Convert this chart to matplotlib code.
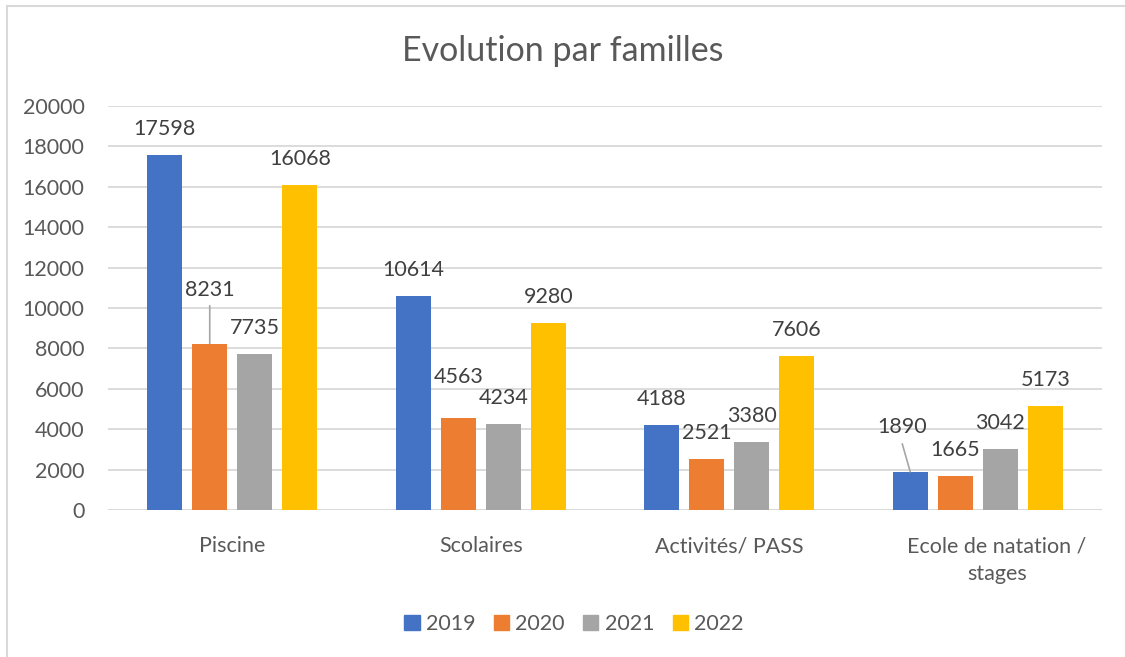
import numpy as np
import matplotlib
matplotlib.use("Agg")
import matplotlib.pyplot as plt
import matplotlib.transforms as mtransforms
from matplotlib.lines import Line2D

plt.rcParams['font.family'] = ['Lato', 'DejaVu Sans']

# data
categories = ["Piscine", "Scolaires", "Activités/ PASS", "Ecole de natation /\nstages"]
years = ["2019", "2020", "2021", "2022"]
v2019 = [17598, 10614, 4188, 1890]
v2020 = [8231, 4563, 2521, 1665]
v2021 = [7735, 4234, 3380, 3042]
v2022 = [16068, 9280, 7606, 5173]
series = [v2019, v2020, v2021, v2022]
colors = ["#4472C4", "#ED7D31", "#A5A5A5", "#FFC000"]

TXT = "#595959"
LBL = "#404040"
GRID = "#D9D9D9"
FS = 15.5

fig = plt.figure(figsize=(11.25, 6.57), dpi=100)
ax = fig.add_axes([108 / 1125, 1 - 510 / 657, (1102 - 108) / 1125, (510 - 106) / 657])

x = np.arange(len(categories))
pitch = 45 / 248.5
width = 35 / 248.5

# labels moved off their default spot (pixels), some with leader lines
shift = {(1, 0): (0, 28), (1, 1): (0, 15), (0, 3): (-8, 19)}

for i, (vals, col) in enumerate(zip(series, colors)):
    xs = x + (i - 1.5) * pitch
    ax.bar(xs, vals, width=width, color=col, zorder=3)
    for j, (xx, v) in enumerate(zip(xs, vals)):
        dx, dy = shift.get((i, j), (0, 0))
        ax.annotate(str(v), (xx, v), xytext=(dx, 26 + dy), textcoords='offset pixels',
                    ha='center', va='center', fontsize=FS, color=LBL, zorder=4)

# leader lines
ax.annotate("", (x[0] - 0.5 * pitch, v2020[0]), xytext=(0, 38), textcoords='offset pixels',
            arrowprops=dict(arrowstyle='-', color='#A6A6A6', lw=1.2, shrinkA=0, shrinkB=0))
ax.annotate("", (x[3] - 1.5 * pitch, v2019[3]), xytext=(-8, 28), textcoords='offset pixels',
            arrowprops=dict(arrowstyle='-', color='#A6A6A6', lw=1.2, shrinkA=0, shrinkB=0))

ax.set_ylim(0, 20000)
ax.set_xlim(-0.5, 3.5)
ax.set_yticks(np.arange(0, 20001, 2000))
ax.set_xticks(x)
ax.set_xticklabels(categories, fontsize=FS, color=TXT, linespacing=1.45)
ax.tick_params(axis='y', labelsize=FS, labelcolor=TXT, length=0, pad=17)
ax.tick_params(axis='x', length=0, pad=19)
ax.yaxis.grid(True, color=GRID, lw=1.3, zorder=0)
for s in ax.spines.values():
    s.set_visible(False)
ax.axhline(0, color=GRID, lw=1.3, zorder=2)

# last category label sits a bit to the right
lab = ax.get_xticklabels()[3]
lab.set_transform(lab.get_transform() + mtransforms.ScaledTranslation(0.19, 0, fig.dpi_scale_trans))

fig.text(0.5, 1 - 51 / 657, "Evolution par familles", ha='center', va='center',
         fontsize=24.5, color=TXT)

handles = [plt.Rectangle((0, 0), 1, 1, color=c) for c in colors]
fig.legend(handles, years, loc='center', bbox_to_anchor=(574 / 1125, 1 - 624 / 657), ncol=4,
           frameon=False, fontsize=FS, labelcolor=TXT, handlelength=0.7, handleheight=0.7,
           handletextpad=0.3, columnspacing=0.85)

# chart border (left and top only visible)
fig.add_artist(Line2D([7 / 1125, 7 / 1125], [0, 1 - 6 / 657], transform=fig.transFigure,
                      color=GRID, lw=1.5))
fig.add_artist(Line2D([7 / 1125, 1], [1 - 6 / 657, 1 - 6 / 657], transform=fig.transFigure,
                      color=GRID, lw=1.5))

fig.savefig("out.png", dpi=100)
